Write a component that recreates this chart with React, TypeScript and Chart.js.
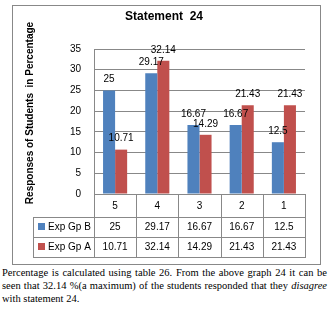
import React, { useEffect, useRef } from "react";
import { Chart, registerables } from "chart.js";

Chart.register(...registerables);

const chartTitle = "Statement  24";
const yAxisTitle = "Responses of Students  in Percentage";
const categories = ["5", "4", "3", "2", "1"];
const seriesNames = ["Exp Gp B", "Exp Gp A"];
const expGpB = [25, 29.17, 16.67, 16.67, 12.5];
const expGpA = [10.71, 32.14, 14.29, 21.43, 21.43];
const yMin = 0;
const yMax = 35;
const yStep = 5;
const seriesColors = ["#4F81BD", "#C0504D"];
const captionLines = [
  "Percentage is calculated using table 26. From the above graph 24 it can be",
  "seen that 32.14 %(a maximum) of the students responded that they ",
  "with statement 24.",
];

const GRID = "#888888";
const FONT = "'Liberation Sans', Arial, sans-serif";

const decorPlugin = {
  id: "decor",
  afterDatasetsDraw(chart: any) {
    const ctx = chart.ctx;
    ctx.save();
    ctx.font = `10px ${FONT}`;
    ctx.fillStyle = "#000";
    ctx.textAlign = "center";
    ctx.textBaseline = "middle";
    chart.data.datasets.forEach((ds: any, di: number) => {
      const meta = chart.getDatasetMeta(di);
      meta.data.forEach((el: any, i: number) => {
        ctx.fillText(String(ds.data[i]), el.x, el.y - 11);
      });
    });
    ctx.restore();
  },
  afterDraw(chart: any) {
    const ctx = chart.ctx;
    const { left, right, bottom } = chart.chartArea;
    ctx.save();
    // outer box
    ctx.strokeStyle = GRID;
    ctx.lineWidth = 1;
    ctx.strokeRect(12.5, 5.5, 308, 259);

    // title
    ctx.fillStyle = "#000";
    ctx.font = `bold 12px ${FONT}`;
    ctx.textAlign = "center";
    ctx.textBaseline = "middle";
    ctx.fillText(chartTitle, 164, 17);

    // y axis title
    ctx.save();
    ctx.translate(30, 113);
    ctx.rotate(-Math.PI / 2);
    ctx.font = `bold 10px ${FONT}`;
    ctx.fillText(yAxisTitle, 0, 0);
    ctx.restore();

    // data table
    const legendLeft = 33;
    const rows = [bottom, bottom + 23, bottom + 43, bottom + 63];
    const n = categories.length;
    const cw = (right - left) / n;
    const xs: number[] = [];
    for (let i = 0; i <= n; i++) xs.push(Math.round(left + i * cw) + 0.5);

    ctx.strokeStyle = GRID;
    ctx.beginPath();
    xs.forEach((x) => {
      ctx.moveTo(x, rows[0]);
      ctx.lineTo(x, rows[3]);
    });
    ctx.moveTo(legendLeft + 0.5, rows[1]);
    ctx.lineTo(legendLeft + 0.5, rows[3]);
    for (let r = 1; r < 4; r++) {
      ctx.moveTo(legendLeft, Math.round(rows[r]) + 0.5);
      ctx.lineTo(xs[n] + 0.5, Math.round(rows[r]) + 0.5);
    }
    ctx.stroke();

    ctx.font = `10px ${FONT}`;
    ctx.fillStyle = "#000";
    ctx.textAlign = "center";
    ctx.textBaseline = "middle";
    categories.forEach((c, i) => {
      ctx.fillText(c, left + (i + 0.5) * cw, (rows[0] + rows[1]) / 2 + 1);
    });
    const seriesData = [expGpB, expGpA];
    seriesData.forEach((vals, s) => {
      const cy = (rows[s + 1] + rows[s + 2]) / 2;
      ctx.fillStyle = seriesColors[s];
      ctx.fillRect(38, Math.round(cy) - 4, 7, 7);
      ctx.fillStyle = "#000";
      ctx.textAlign = "left";
      ctx.fillText(seriesNames[s], 48, cy);
      ctx.textAlign = "center";
      vals.forEach((v, i) => {
        ctx.fillText(String(v), left + (i + 0.5) * cw, cy);
      });
    });
    ctx.restore();
  },
};

export default function App() {
  const ref = useRef<HTMLCanvasElement>(null);
  useEffect(() => {
    document.body.style.margin = "0";
    const chart = new Chart(ref.current as HTMLCanvasElement, {
      type: "bar",
      data: {
        labels: categories,
        datasets: [
          { label: seriesNames[0], data: expGpB, backgroundColor: seriesColors[0], borderWidth: 0 },
          { label: seriesNames[1], data: expGpA, backgroundColor: seriesColors[1], borderWidth: 0 },
        ],
      },
      options: {
        animation: false,
        responsive: false,
        devicePixelRatio: 1,
        events: [],
        layout: { padding: { left: 0, top: 49, right: 25, bottom: 72 } },
        plugins: { legend: { display: false }, title: { display: false }, tooltip: { enabled: false } },
        datasets: { bar: { categoryPercentage: 0.571, barPercentage: 1 } },
        scales: {
          x: { display: false },
          y: {
            min: yMin,
            max: yMax,
            ticks: { stepSize: yStep, padding: 13, color: "#000", font: { family: FONT, size: 10 } },
            grid: { color: GRID, drawTicks: false },
            border: { display: true, color: GRID },
            afterFit: (scale: any) => {
              scale.width = 94;
            },
          },
        },
      },
      plugins: [decorPlugin],
    } as any);
    return () => chart.destroy();
  }, []);

  const lineStyle: React.CSSProperties = {
    position: "absolute",
    left: 2,
    width: 325,
    whiteSpace: "nowrap",
    textAlign: "justify",
    textAlignLast: "justify" as any,
    fontFamily: "'Liberation Serif', 'Times New Roman', serif",
    fontSize: "10.5px",
    lineHeight: "13px",
    color: "#000",
  };

  return (
    <div style={{ position: "relative", width: 330, height: 311, overflow: "hidden", background: "#fff" }}>
      <canvas ref={ref} width={330} height={266} style={{ position: "absolute", left: 0, top: 0 }} />
      <div style={{ ...lineStyle, top: 266 }}>{captionLines[0]}</div>
      <div style={{ ...lineStyle, top: 279 }}>
        {captionLines[1]}
        <i>disagree</i>
      </div>
      <div style={{ ...lineStyle, top: 292, textAlignLast: "left" as any }}>{captionLines[2]}</div>
    </div>
  );
}
